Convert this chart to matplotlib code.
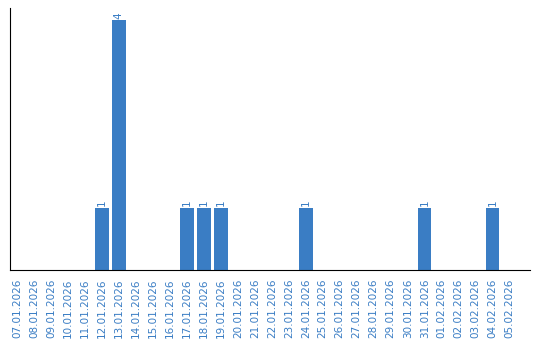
import matplotlib
matplotlib.use("Agg")
import matplotlib.pyplot as plt

dates = ["07.01.2026", "08.01.2026", "09.01.2026", "10.01.2026", "11.01.2026",
         "12.01.2026", "13.01.2026", "14.01.2026", "15.01.2026", "16.01.2026",
         "17.01.2026", "18.01.2026", "19.01.2026", "20.01.2026", "21.01.2026",
         "22.01.2026", "23.01.2026", "24.01.2026", "25.01.2026", "26.01.2026",
         "27.01.2026", "28.01.2026", "29.01.2026", "30.01.2026", "31.01.2026",
         "01.02.2026", "02.02.2026", "03.02.2026", "04.02.2026", "05.02.2026"]
counts = [0, 0, 0, 0, 0, 1, 4, 0, 0, 0, 1, 1, 1, 0, 0, 0, 0, 1, 0, 0,
          0, 0, 0, 0, 1, 0, 0, 0, 1, 0]

color = "#3a7dc4"
fig = plt.figure(figsize=(5.4, 3.4), dpi=100)
ax = fig.add_axes([10/540, 1 - 270/340, 520/540, 262/340])
x = list(range(len(dates)))
ax.bar(x, counts, width=0.8, color=color)
for xi, c in zip(x, counts):
    if c > 0:
        ax.text(xi, c + 0.03, str(c), rotation=90, ha="center", va="bottom",
                color=color, fontsize=7.5)
ax.set_xlim(-0.41, 30.2)
ax.set_ylim(0, 4.2)
ax.set_xticks(x)
ax.set_xticklabels(dates, rotation=90, color=color, fontsize=7.5)
ax.tick_params(axis="x", length=0, pad=6)
ax.set_yticks([])
ax.spines["top"].set_visible(False)
ax.spines["right"].set_visible(False)
fig.savefig("out.png", dpi=100)
